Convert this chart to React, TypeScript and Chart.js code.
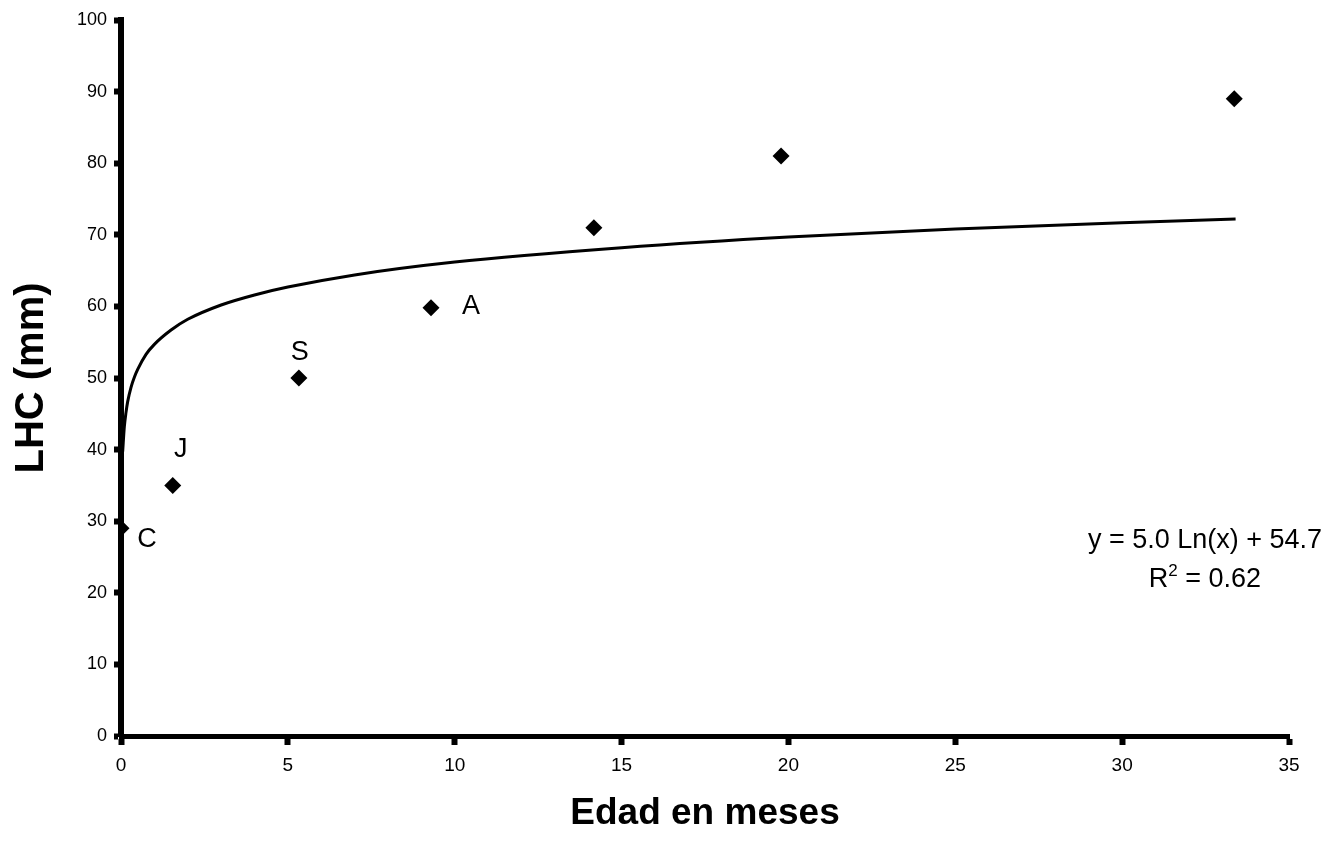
import React, { useEffect, useRef } from "react";
import { Chart, registerables } from "chart.js";

Chart.register(...registerables);

const ageMonths = [0, 1.55, 5.33, 9.29, 14.17, 19.78, 33.36];
const lengthMm = [29, 35, 50, 59.8, 71, 81, 89];
const stageLabels = ["C", "J", "S", "A", "", "", ""];

// Fitted logarithmic trend line
const trendAge = [0.05, 0.1, 0.15, 0.2, 0.3, 0.4, 0.5, 0.75, 1, 1.5, 2, 3, 4, 5, 7, 10, 15, 20, 25, 30, 33.4];
const trendLength = [39.7, 43.2, 45.2, 46.7, 48.7, 50.1, 51.2, 53.3, 54.7, 56.7, 58.2, 60.2, 61.6, 62.7, 64.4, 66.2, 68.2, 69.7, 70.8, 71.7, 72.2];

const equationText = "y = 5.0 Ln(x) + 54.7";
const r2Text = " = 0.62";
const xTitle = "Edad en meses";
const yTitle = "LHC (mm)";
const xMin = 0, xMax = 35, xStep = 5;
const yMin = 0, yMax = 100, yStep = 10;

const FONT = "'Liberation Sans', Arial, Helvetica, sans-serif";

const annotationPlugin = {
  id: "annotations",
  afterDatasetsDraw(chart: any) {
    const { ctx, chartArea } = chart;
    const meta = chart.getDatasetMeta(0);
    const offsets: Record<string, [number, number]> = {
      C: [26, 9],
      J: [8, -38],
      S: [1, -28],
      A: [40, -4],
    };
    ctx.save();
    ctx.fillStyle = "#000";
    ctx.font = `27px ${FONT}`;
    ctx.textAlign = "center";
    ctx.textBaseline = "alphabetic";
    stageLabels.forEach((lab, i) => {
      if (!lab) return;
      const el = meta.data[i];
      const off = offsets[lab] || [0, 0];
      ctx.fillText(lab, el.x + off[0], el.y + off[1] + 9.7);
    });

    // Equation box
    const cx = chartArea.right - 84;
    const b1 = chartArea.bottom - 188;
    const b2 = chartArea.bottom - 149;
    ctx.fillText(equationText, cx, b1);
    ctx.textAlign = "left";
    ctx.font = `27px ${FONT}`;
    const wR = ctx.measureText("R").width;
    const wRest = ctx.measureText(r2Text).width;
    ctx.font = `17px ${FONT}`;
    const wSup = ctx.measureText("2").width;
    const start = cx - (wR + wSup + wRest) / 2;
    ctx.font = `27px ${FONT}`;
    ctx.fillText("R", start, b2);
    ctx.font = `17px ${FONT}`;
    ctx.fillText("2", start + wR, b2 - 11);
    ctx.font = `27px ${FONT}`;
    ctx.fillText(r2Text, start + wR + wSup, b2);
    ctx.restore();
  },
};

export default function App() {
  const ref = useRef<HTMLCanvasElement | null>(null);

  useEffect(() => {
    if (!ref.current) return;
    const chart = new Chart(ref.current, {
      type: "scatter",
      data: {
        datasets: [
          {
            label: "LHC",
            data: ageMonths.map((x, i) => ({ x, y: lengthMm[i] })),
            pointStyle: "rectRot",
            pointRadius: 8.5,
            pointHoverRadius: 8.5,
            backgroundColor: "#000",
            borderColor: "#000",
            borderWidth: 0,
            order: 0,
          },
          {
            type: "line",
            label: "Tendencia",
            data: trendAge.map((x, i) => ({ x, y: trendLength[i] })),
            borderColor: "#000",
            borderWidth: 3,
            pointRadius: 0,
            fill: false,
            showLine: true,
            cubicInterpolationMode: "monotone",
            order: 1,
          } as any,
        ],
      },
      options: {
        responsive: false,
        animation: false,
        devicePixelRatio: 1,
        layout: { padding: { top: 20, right: 44, bottom: 0, left: 0 } },
        plugins: {
          legend: { display: false },
          tooltip: { enabled: false },
        },
        scales: {
          x: {
            type: "linear",
            min: xMin,
            max: xMax,
            ticks: {
              stepSize: xStep,
              color: "#000",
              padding: 9,
              font: { family: FONT, size: 19 },
            },
            grid: {
              display: true,
              drawOnChartArea: false,
              drawTicks: true,
              tickLength: 9,
              tickWidth: 6,
              tickColor: "#000",
              color: "#000",
            },
            border: { display: true, color: "#000", width: 5 },
            title: {
              display: true,
              text: xTitle,
              color: "#000",
              font: { family: FONT, size: 37, weight: "bold" },
              padding: { top: 0, bottom: 7 },
            },
            afterFit: (s: any) => {
              s.height = 107;
            },
          },
          y: {
            type: "linear",
            min: yMin,
            max: yMax,
            ticks: {
              stepSize: yStep,
              color: "#000",
              padding: 7,
              font: { family: FONT, size: 18 },
            },
            grid: {
              display: true,
              drawOnChartArea: false,
              drawTicks: true,
              tickLength: 7,
              tickWidth: 6,
              tickColor: "#000",
              color: "#000",
            },
            border: { display: true, color: "#000", width: 6 },
            title: {
              display: true,
              text: yTitle,
              color: "#000",
              font: { family: FONT, size: 40, weight: "bold" },
              padding: { top: 8, bottom: 0 },
            },
            afterFit: (s: any) => {
              s.width = 121;
            },
          },
        },
      },
      plugins: [annotationPlugin],
    });
    return () => chart.destroy();
  }, []);

  return (
    <canvas
      ref={ref}
      width={1333}
      height={843}
      style={{ position: "absolute", left: 0, top: 0, display: "block", background: "#fff" }}
    />
  );
}
